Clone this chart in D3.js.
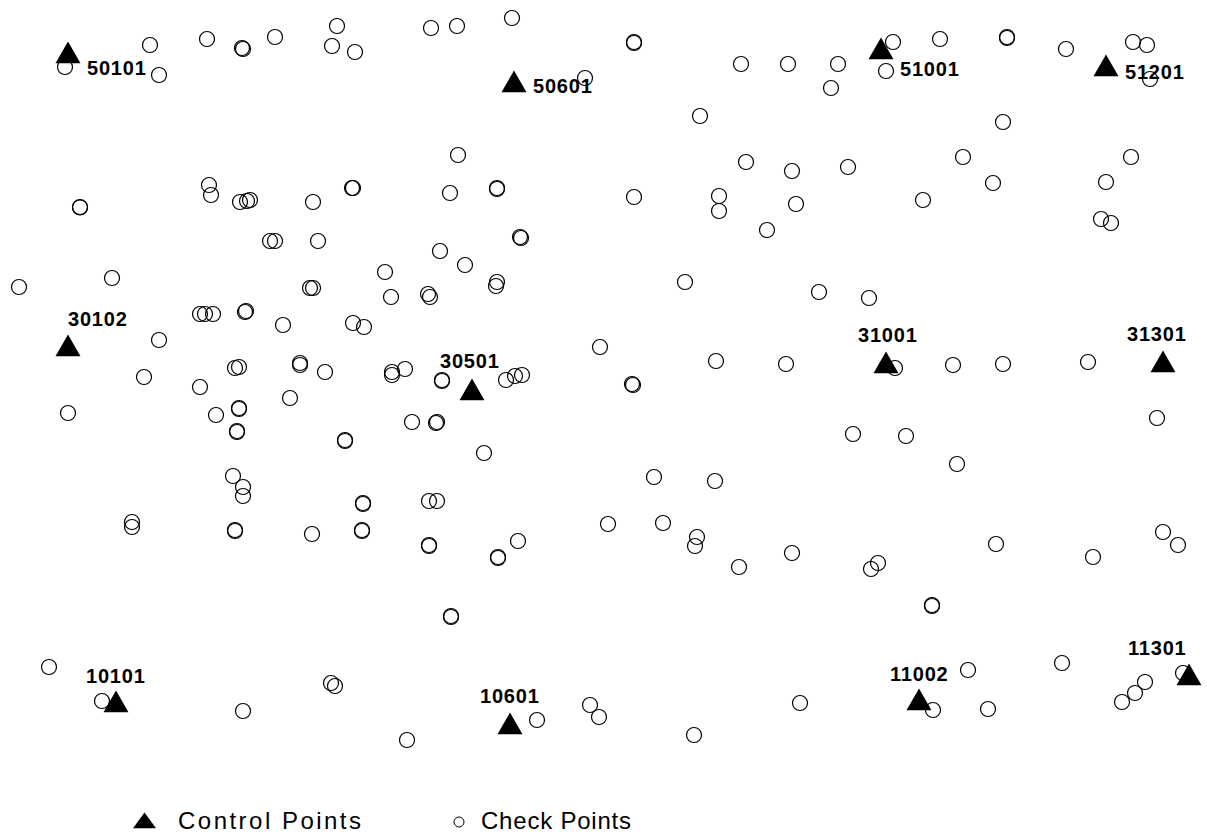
<!DOCTYPE html>
<html>
<head>
<meta charset="utf-8">
<script src="https://cdn.jsdelivr.net/npm/d3@7"></script>
<style>
  body { margin: 0; background: white; }
  svg { display: block; }
</style>
</head>
<body>
<div id="chart"></div>
<script>
// control points (station id + location)
var controlIds = ["50101", "50601", "51001", "51201", "30102", "30501", "31001", "31301", "10101", "10601", "11002", "11301"];
var controlX = [68, 514, 881, 1106, 68, 472, 886, 1163, 116, 510, 919, 1189];
var controlY = [56, 85, 52, 69, 349, 393, 366, 365, 705, 727, 703, 678];

// check points
var checkX = [
  65, 150, 159, 207, 242, 243, 275, 337, 332, 355,
  431, 457, 512, 585, 634, 634, 741, 788, 838, 831, 886, 893, 940, 1007, 1007, 1066, 1133, 1147, 1150,
  700, 1003,
  80, 80, 209, 211, 240, 247, 250, 313, 352, 353, 458, 450, 497, 497, 634, 719, 719, 746, 792, 796, 767, 848, 923, 963, 993, 1131, 1106, 1101, 1111,
  270, 275, 318, 521, 520, 440, 465,
  19, 112, 310, 313, 385, 391, 428, 430, 497, 496, 685, 819, 869,
  200, 205, 213, 246, 245, 283, 353, 364, 159, 600,
  144, 235, 239, 300, 300, 325, 392, 392, 405,
  442, 442, 506, 515, 522, 632, 633, 716, 786, 895, 953, 1003, 1088,
  68, 200, 290, 216, 239, 239, 237, 237, 345, 345, 412, 437, 436, 484, 853, 906, 957, 1157,
  233, 243, 243, 654, 715,
  132, 132, 235, 235, 312, 363, 363, 362, 362, 429, 437, 429, 429, 498, 498, 518, 608, 663, 697, 695, 739, 792, 871, 878, 996, 1093, 1163, 1178,
  451, 451, 932, 932,
  49, 102, 243, 331, 335, 407, 537, 590, 599, 694, 800, 933, 968, 988, 1062, 1122, 1135, 1145, 1183
];
var checkY = [
  67, 45, 75, 39, 48, 49, 37, 26, 46, 52,
  28, 26, 18, 78, 42, 43, 64, 64, 64, 88, 71, 42, 39, 37, 38, 49, 42, 45, 79,
  116, 122,
  207, 207.5, 185, 195, 202, 201, 200, 202, 188, 188, 155, 193, 189, 188, 197, 196, 211, 162, 171, 204, 230, 167, 200, 157, 183, 157, 182, 219, 223,
  241, 241, 241, 238, 237, 251, 265,
  287, 278, 288, 288, 272, 297, 294, 297, 282, 286, 282, 292, 298,
  314, 314, 314, 311, 312, 325, 323, 327, 340, 347,
  377, 368, 367, 365, 363, 372, 375, 372, 369,
  381, 380, 380, 376, 375, 384, 385, 361, 364, 368, 365, 364, 362,
  413, 387, 398, 415, 409, 408, 432, 431, 441, 440, 422, 422, 423, 453, 434, 436, 464, 418,
  476, 487, 496, 477, 481,
  522, 527, 531, 530, 534, 504, 503, 530, 531, 501, 501, 546, 545, 558, 557, 541, 524, 523, 537, 546, 567, 553, 569, 563, 544, 557, 532, 545,
  617, 616, 606, 605,
  667, 701, 711, 683, 686, 740, 720, 705, 717, 735, 703, 710, 670, 709, 663, 702, 693, 682, 673
];

var legendLabels = ["Control Points", "Check Points"];

var width = 1207, height = 839;

var svg = d3.select("#chart").append("svg")
  .attr("width", width)
  .attr("height", height);

var x = d3.scaleLinear().domain([0, 1207]).range([0, width]);
var y = d3.scaleLinear().domain([0, 839]).range([0, height]);

var checks = d3.range(checkX.length).map(function(i) { return { x: checkX[i], y: checkY[i] }; });
var controls = controlIds.map(function(id, i) { return { id: id, x: controlX[i], y: controlY[i] }; });

// where each id label sits relative to its triangle
var labelDx = [19, 19, 19, 19, 0, -32, -28, -36, -30, -30, -29, -61];
var labelDy = [19, 8, 24, 10, -23, -25, -24, -24, -22, -24, -22, -23];

svg.append("g")
  .selectAll("circle")
  .data(checks)
  .enter()
  .append("circle")
    .attr("cx", function(d) { return x(d.x); })
    .attr("cy", function(d) { return y(d.y); })
    .attr("r", 7.5)
    .attr("fill", "none")
    .attr("stroke", "black")
    .attr("stroke-width", 1.2);

var tri = d3.symbol().type(d3.symbolTriangle).size(270);

svg.append("g")
  .selectAll("path")
  .data(controls)
  .enter()
  .append("path")
    .attr("d", tri)
    .attr("transform", function(d) { return "translate(" + x(d.x) + "," + y(d.y) + ")"; })
    .attr("fill", "black");

svg.append("g")
  .selectAll("text")
  .data(controls)
  .enter()
  .append("text")
    .attr("x", function(d, i) { return x(d.x) + labelDx[i]; })
    .attr("y", function(d, i) { return y(d.y) + labelDy[i]; })
    .attr("font-family", "Liberation Sans, Arial, sans-serif")
    .attr("font-weight", "bold")
    .attr("font-size", 20)
    .attr("letter-spacing", 0.8)
    .text(function(d) { return d.id; });

// legend
var legend = svg.append("g");
legend.append("path")
  .attr("d", d3.symbol().type(d3.symbolTriangle).size(230))
  .attr("transform", "translate(144.5,823) scale(1,0.78)")
  .attr("fill", "black");
legend.append("circle")
  .attr("cx", 459).attr("cy", 822).attr("r", 5)
  .attr("fill", "none").attr("stroke", "black").attr("stroke-width", 1);

var legendX = [178, 481], legendW = [183, 150];
legend.selectAll("text")
  .data(legendLabels)
  .enter()
  .append("text")
    .attr("x", function(d, i) { return legendX[i]; })
    .attr("y", 829)
    .attr("font-family", "Liberation Sans, Arial, sans-serif")
    .attr("font-size", 24)
    .attr("textLength", function(d, i) { return legendW[i]; })
    .attr("lengthAdjust", "spacing")
    .text(function(d) { return d; });
</script>
</body>
</html>
